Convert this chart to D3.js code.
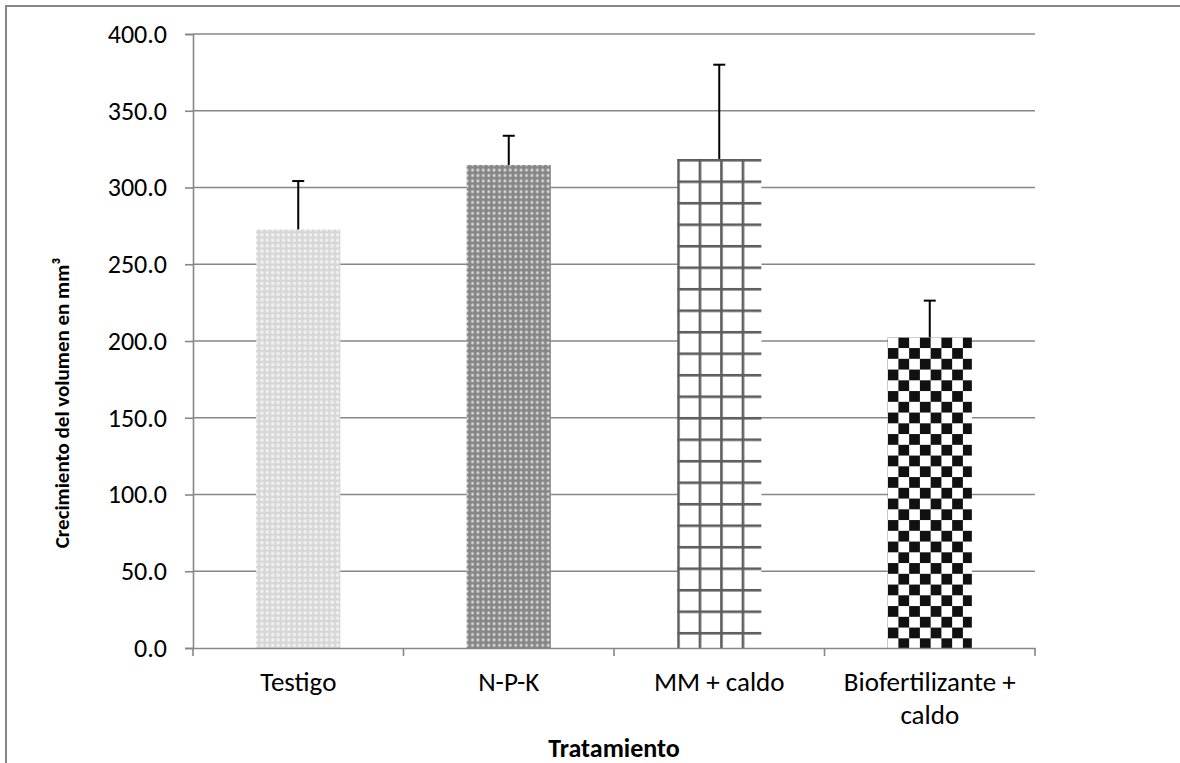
<!DOCTYPE html>
<html>
<head>
<meta charset="utf-8">
<script src="https://cdn.jsdelivr.net/npm/d3@7"></script>
<style>
  body { margin: 0; background: #fff; }
  svg { display: block; font-family: Carlito, Lato, "Open Sans", sans-serif; }
  .tick text { fill: #000; }
</style>
</head>
<body>
<svg id="chart" width="1180" height="763"></svg>
<script>
const categories = ["Testigo", "N-P-K", "MM + caldo", "Biofertilizante + caldo"];
const means = [272.7, 314.7, 318.6, 202.4];
const errors = [31.5, 19.0, 61.4, 23.9];
const yTicks = [0, 50, 100, 150, 200, 250, 300, 350, 400];

const svg = d3.select("#chart");
const margin = { top: 34, left: 193 };
const width = 842, height = 614;
const gridColor = "#878787";
const fontFamily = "Carlito, Lato, 'Open Sans', sans-serif";

// outer frame (runs off the page on right/bottom)
svg.append("rect")
  .attr("x", 6).attr("y", 6)
  .attr("width", 1300).attr("height", 900)
  .attr("fill", "none")
  .attr("stroke", gridColor)
  .attr("stroke-width", 2);

const y = d3.scaleLinear().domain([0, 400]).range([margin.top + height, margin.top]);
const xAxisScale = d3.scaleBand().domain(categories).range([margin.left, margin.left + width]);
const x = d3.scaleBand().domain(categories)
  .range([margin.left, margin.left + width])
  .paddingInner(0.6).paddingOuter(0.3);

// patterns, one per bar, anchored at the bar's top-left
const defs = svg.append("defs");
function barTop(i) { return y(means[i]); }

// Testigo: light grey lattice
let p = defs.append("pattern").attr("id", "pat0").attr("patternUnits", "userSpaceOnUse")
  .attr("width", 5.4).attr("height", 5.4);
p.append("rect").attr("width", 5.4).attr("height", 5.4).attr("fill", "#d6d6d6");
p.append("circle").attr("cx", 2.7).attr("cy", 2.7).attr("r", 1.9).attr("fill", "#f0f0f0");

// N-P-K: dark grey with light dots
p = defs.append("pattern").attr("id", "pat1").attr("patternUnits", "userSpaceOnUse")
  .attr("width", 5.4).attr("height", 5.4);
p.append("rect").attr("width", 5.4).attr("height", 5.4).attr("fill", "#868686");
p.append("circle").attr("cx", 2.7).attr("cy", 2.7).attr("r", 1.5).attr("fill", "#d8d8d8");

// MM + caldo: large grid
const g2 = 21.5;
p = defs.append("pattern").attr("id", "pat2").attr("patternUnits", "userSpaceOnUse")
  .attr("x", x(categories[2])).attr("y", barTop(2))
  .attr("width", g2).attr("height", g2);
p.append("rect").attr("width", g2).attr("height", g2).attr("fill", "#fff");
p.append("rect").attr("x", 0).attr("y", 0).attr("width", 2.6).attr("height", g2).attr("fill", "#5e5e5e");
p.append("rect").attr("x", 0).attr("y", 0).attr("width", g2).attr("height", 2.6).attr("fill", "#5e5e5e");

// Biofertilizante: checkerboard
const c3 = 10.75;
p = defs.append("pattern").attr("id", "pat3").attr("patternUnits", "userSpaceOnUse")
  .attr("x", x(categories[3])).attr("y", barTop(3))
  .attr("width", c3 * 2).attr("height", c3 * 2);
p.append("rect").attr("width", c3 * 2).attr("height", c3 * 2).attr("fill", "#fff");
p.append("rect").attr("x", c3).attr("y", 0).attr("width", c3).attr("height", c3).attr("fill", "#111");
p.append("rect").attr("x", 0).attr("y", c3).attr("width", c3).attr("height", c3).attr("fill", "#111");

// gridlines
svg.append("g")
  .selectAll("line")
  .data(yTicks.filter(d => d > 0))
  .enter().append("line")
  .attr("x1", margin.left).attr("x2", margin.left + width)
  .attr("y1", d => y(d)).attr("y2", d => y(d))
  .attr("stroke", gridColor).attr("stroke-width", 1.6);

// Y axis
const yAxis = svg.append("g")
  .attr("transform", `translate(${margin.left},0)`)
  .call(d3.axisLeft(y).tickValues(yTicks).tickFormat(d3.format(".1f")).tickSize(8).tickPadding(18));
yAxis.attr("font-family", fontFamily).attr("font-size", 26);
yAxis.select(".domain").attr("stroke", gridColor).attr("stroke-width", 1.6);
yAxis.selectAll(".tick line").attr("stroke", gridColor).attr("stroke-width", 1.6);

// bars
svg.append("g")
  .selectAll("rect")
  .data(categories)
  .enter().append("rect")
  .attr("x", d => x(d))
  .attr("y", (d, i) => y(means[i]))
  .attr("width", x.bandwidth())
  .attr("height", (d, i) => y(0) - y(means[i]))
  .attr("fill", (d, i) => `url(#pat${i})`);

// error bars (plus only)
const err = svg.append("g").attr("stroke", "#000").attr("stroke-width", 2);
categories.forEach((c, i) => {
  const cx = x(c) + x.bandwidth() / 2;
  err.append("line")
    .attr("x1", cx).attr("x2", cx)
    .attr("y1", y(means[i])).attr("y2", y(means[i] + errors[i]));
  err.append("line")
    .attr("x1", cx - 6).attr("x2", cx + 6)
    .attr("y1", y(means[i] + errors[i])).attr("y2", y(means[i] + errors[i]));
});

// X axis
const xAxis = svg.append("g")
  .attr("transform", `translate(0,${margin.top + height})`)
  .call(d3.axisBottom(xAxisScale).tickSize(0).tickPadding(24));
xAxis.attr("font-family", fontFamily).attr("font-size", 27);
xAxis.select(".domain").attr("stroke", gridColor).attr("stroke-width", 1.6);
xAxis.selectAll("text").call(wrap, 200);

// tick marks between categories
xAxis.append("g")
  .selectAll("line")
  .data([margin.left].concat(categories.map(c => xAxisScale(c) + xAxisScale.bandwidth())))
  .enter().append("line")
  .attr("x1", d => d).attr("x2", d => d)
  .attr("y1", 0).attr("y2", 8)
  .attr("stroke", gridColor).attr("stroke-width", 1.6);

function wrap(text, maxWidth) {
  text.each(function() {
    const t = d3.select(this);
    const words = t.text().split(/\s+/);
    const yy = t.attr("y");
    const dy = parseFloat(t.attr("dy"));
    let line = [];
    let lineNo = 0;
    let tspan = t.text(null).append("tspan").attr("x", 0).attr("y", yy).attr("dy", dy + "em");
    words.forEach(w => {
      line.push(w);
      tspan.text(line.join(" "));
      if (tspan.node().getComputedTextLength() > maxWidth && line.length > 1) {
        line.pop();
        tspan.text(line.join(" "));
        line = [w];
        tspan = t.append("tspan").attr("x", 0).attr("y", yy)
          .attr("dy", (++lineNo * 1.22 + dy) + "em").text(w);
      }
    });
  });
}

// axis titles
svg.append("text")
  .attr("x", margin.left + width / 2)
  .attr("y", 757)
  .attr("text-anchor", "middle")
  .style("font-size", "26px")
  .style("font-weight", "bold")
  .text("Tratamiento");

svg.append("text")
  .attr("transform", "rotate(-90)")
  .attr("x", -403)
  .attr("y", 69)
  .attr("text-anchor", "middle")
  .style("font-size", "21px")
  .style("font-weight", "bold")
  .text("Crecimiento del volumen en mm³");
</script>
</body>
</html>
